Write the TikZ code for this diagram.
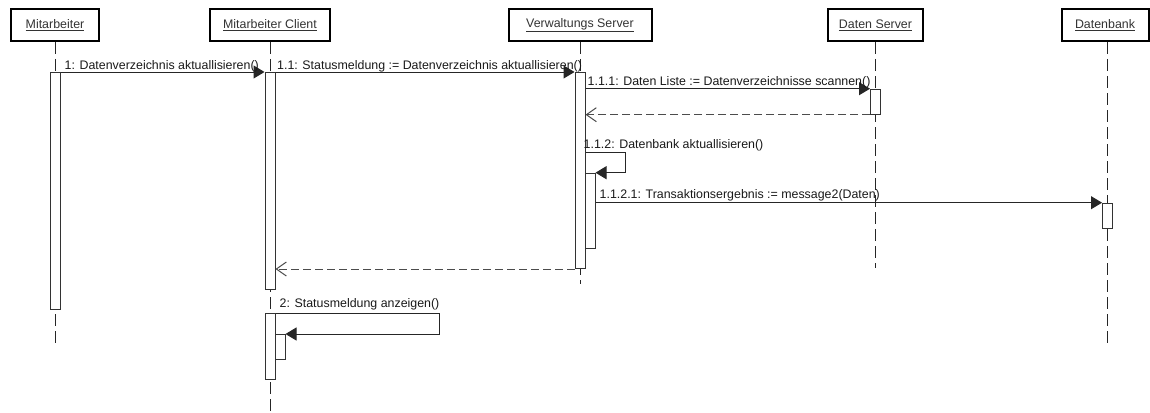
\documentclass[tikz,border=0pt]{standalone}
\usepackage{fontspec}
\setmainfont{Liberation Sans}
\usetikzlibrary{arrows.meta}
\begin{document}
\begin{tikzpicture}[x=1pt,y=-1pt,
  font=\fontsize{12.4}{14}\selectfont,
  header/.style={draw=black, line width=2pt, fill=white, minimum height=32pt, inner sep=0pt, text=black!80},
  lifeline/.style={draw=black!85, line width=1pt, dash pattern=on 12pt off 5pt},
  act/.style={draw=black!80, line width=1pt, fill=white, minimum width=10pt, inner sep=0pt, anchor=north},
  call/.style={draw=black!85, line width=1pt, -{Triangle[length=11pt,width=13pt]}},
  reply/.style={draw=black!70, line width=1pt, dash pattern=on 8pt off 4pt, -{Straight Barb[length=10pt,width=14pt]}},
  msg/.style={anchor=base west, inner sep=0pt, text=black!90},
]
\useasboundingbox (0,0) rectangle (1150,412);

% participants
\node[header, minimum width=88pt]  (h1) at (55,25)     {\underline{Mitarbeiter}};
\node[header, minimum width=120pt] (h2) at (270,25)    {\underline{Mitarbeiter Client}};
\node[header, minimum width=143pt] (h3) at (580,25)    {\underline{Verwaltungs Server}};
\node[header, minimum width=95pt]  (h4) at (875.5,25)  {\underline{Daten Server}};
\node[header, minimum width=87pt]  (h5) at (1105,25)   {\underline{Datenbank}};

% lifeline ends
\coordinate (e1) at (55,345);
\coordinate (e2) at (270,412);
\coordinate (e3) at (580,284);
\coordinate (e4) at (875.5,268);
\coordinate (e5) at (1107.5,347);

\draw[lifeline] (h1.south -| e1) -- (e1);
\draw[lifeline] (h2.south -| e2) -- (e2);
\draw[lifeline] (h3.south -| e3) -- (e3);
\draw[lifeline] (h4.south -| e4) -- (e4);
\draw[lifeline] (h5.south -| e5) -- (e5);

% activation bars
\node[act, minimum height=237pt] (a1)  at (55,72) {};
\node[act, minimum height=217pt] (a2)  at (270,72) {};
\node[act, minimum height=196pt] (a3)  at (580,72) {};
\node[act, minimum height=75pt]  (a3b) at (590,172.7) {};
\node[act, minimum height=25pt]  (a4)  at (875.5,88.7) {};
\node[act, minimum height=25pt]  (a5)  at (1107.5,202.7) {};
\node[act, minimum height=66pt]  (a2b) at (270,313) {};
\node[act, minimum height=25pt]  (a2c) at (280,334) {};

% 1
\draw[call] (a1.north east) -- (a2.north west);
\node[msg] (m1) at ([xshift=4pt,yshift=2.5pt]a1.north east) {1: Datenverzeichnis aktuallisieren()};

% 1.1
\draw[call] (a2.north east) -- (a3.north west);
\node[msg] (m11) at ([xshift=1.5pt,yshift=3pt]a2.north east) {1.1: Statusmeldung := Datenverzeichnis aktuallisieren()};

% 1.1.1 and its reply
\draw[call] (a4.north west -| a3.east) -- (a4.north west);
\node[msg] (m111) at ([xshift=2pt,yshift=3.5pt]a4.north west -| a3.east) {1.1.1: Daten Liste := Datenverzeichnisse scannen()};
\draw[reply] (a4.south west) -- (a4.south west -| a3.east);

% 1.1.2 self call
\coordinate (s1) at (625.7,152.7);
\draw[call] (s1 -| a3.east) -- (s1) -- (s1 |- a3b.north) -- (a3b.north east);
\node[msg] (m112) at ([xshift=-2pt,yshift=4.5pt]s1 -| a3.east) {1.1.2: Datenbank aktuallisieren()};

% 1.1.2.1
\draw[call] (a5.north west -| a3b.east) -- (a5.north west);
\node[msg] (m1121) at ([xshift=4pt,yshift=4.5pt]a5.north west -| a3b.east) {1.1.2.1: Transaktionsergebnis := message2(Daten)};

% reply to 1.1
\draw[reply] (a3.south west) -- (a3.south west -| a2.east);

% 2 self call
\coordinate (s2) at (439,313);
\draw[call] (a2b.north east) -- (s2) -- (s2 |- a2c.north) -- (a2c.north east);
\node[msg] (m2) at ([xshift=4pt,yshift=6pt]a2b.north east) {2: Statusmeldung anzeigen()};
\end{tikzpicture}
\end{document}
